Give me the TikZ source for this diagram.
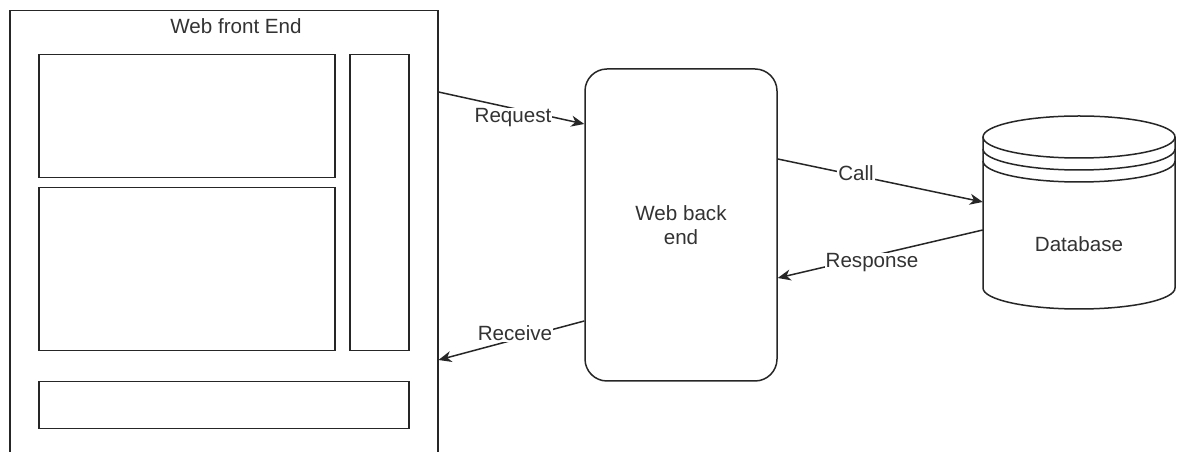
\documentclass[tikz,border=0pt]{standalone}
\usepackage{fontspec}
\setmainfont{Liberation Sans}
\usetikzlibrary{arrows.meta,calc}
\begin{document}
\begin{tikzpicture}[x=1pt,y=1pt,
  ln/.style={draw=black!85, line width=1.5pt},
  box/.style={ln, rectangle, inner sep=0pt},
  txt/.style={text=black!80, font=\fontsize{20.6}{24}\selectfont, inner sep=1pt},
  lbl/.style={txt, fill=white, inner sep=1pt},
  conn/.style={ln, -{Stealth[length=13pt,width=11pt,inset=4pt]}}]
\useasboundingbox (0,0) rectangle (1179,452);
\clip (0,0) rectangle (1179,452);
\fill[white] (0,0) rectangle (1179,452);
% front end frame
\node[box, minimum width=428pt, minimum height=462pt, anchor=north west] (fe) at (9,442) {};
\node[txt] (fetitle) at (236,426) {Web front End};
\node[box, minimum width=296pt, minimum height=123pt, anchor=north west] (pa) at (38,398) {};
\node[box, minimum width=296pt, minimum height=163pt, anchor=north west] (pb) at (38,265) {};
\node[box, minimum width=59pt, minimum height=296pt, anchor=north west] (pc) at (349,398) {};
\node[box, minimum width=370pt, minimum height=47pt, anchor=north west] (pd) at (38,71) {};
% back end
\node[box, rounded corners=22pt, minimum width=192pt, minimum height=312pt, align=center, txt, text=black!80] (be) at (681,227) {Web back\\end};
% database
\fill[white] (983,315) -- (983,164) arc[start angle=180,end angle=360,x radius=96,y radius=21] -- (1175,315) -- cycle;
\draw[ln] (983,315) -- (983,164) arc[start angle=180,end angle=360,x radius=96,y radius=21] -- (1175,315);
\draw[ln, fill=white] (1079,315) ellipse[x radius=96, y radius=21];
\draw[ln] (983,303) arc[start angle=180,end angle=360,x radius=96,y radius=21];
\draw[ln] (983,291) arc[start angle=180,end angle=360,x radius=96,y radius=21];
\node[minimum width=192pt, minimum height=193pt, inner sep=0pt] (db) at (1079,239.5) {};
\node[txt] (dbtext) at (1079,208) {Database};
% connectors
\draw[conn] (fe.east |- 0,360) -- (be.west |- 0,328);
\node[lbl] (lreq) at (513,334) {Request};
\draw[conn] (be.west |- 0,131) -- (fe.east |- 0,92);
\node[lbl] (lrec) at (515,119) {Receive};
\draw[conn] (be.east |- 0,293) -- (db.west |- 0,250);
\node[lbl] (lcall) at (856,279) {Call};
\draw[conn] (db.west |- 0,222) -- (be.east |- 0,174);
\node[lbl] (lresp) at (872,189) {Response};
\end{tikzpicture}
\end{document}
